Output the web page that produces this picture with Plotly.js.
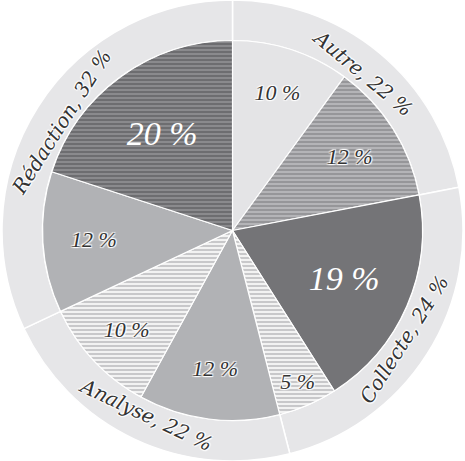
<!DOCTYPE html>
<html>
<head>
<meta charset="utf-8">
<script src="https://cdn.plot.ly/plotly-3.0.1.min.js"></script>
<style>html,body{margin:0;padding:0;background:#fff;}#chart{width:465px;height:461px;}</style>
</head>
<body>
<div id="chart"></div>
<script>
var groups = ["Autre", "Collecte", "Analyse", "Rédaction"];
var groupValues = [22, 24, 22, 32];
var subLabels = ["Autre A", "Autre B", "Collecte A", "Collecte B", "Analyse A", "Analyse B", "Rédaction A", "Rédaction B"];
var subValues = [10, 12, 19, 5, 12, 10, 12, 20];

var outerText = groups.map(function (g, i) { return g + ", " + groupValues[i] + " %"; });
var innerText = subValues.map(function (v) { return v + " %"; });

var innerColors = ["#e4e4e6", "#b4b4b7", "#747477", "#f2f2f2", "#b1b2b5", "#f2f2f2", "#b1b2b5", "#6d6d70"];
var innerPattern = ["", "-", "", "-", "", "-", "", "-"];
var innerFg = ["#e4e4e6", "#939396", "#747477", "#c4c4c6", "#b1b2b5", "#c4c4c6", "#b1b2b5", "#8d8d90"];
var innerTextColor = ["#333", "#333", "#fff", "#333", "#333", "#333", "#333", "#fff"];
var innerTextSize = [22, 22, 34, 22, 22, 22, 22, 34];
var halo = "1px 1px 1px #fff, -1px -1px 1px #fff, 1px -1px 1px #fff, -1px 1px 1px #fff";
var innerShadow = innerTextColor.map(function (c) { return c === "#fff" ? "none" : halo; });

var W = 465, H = 461, Rout = 230.5, Rin = 190;
var outer = {
  type: "pie",
  values: groupValues,
  labels: groups,
  text: outerText,
  textinfo: "text",
  textposition: "inside",
  insidetextorientation: "tangential",
  sort: false,
  direction: "clockwise",
  rotation: 0,
  hole: Rin / Rout,
  marker: { colors: ["#e6e6e8", "#e6e6e8", "#e6e6e8", "#e6e6e8"], line: { color: "#fff", width: 1.5 } },
  textfont: { family: "DejaVu Serif", style: "italic", size: 20, color: "#333", shadow: halo },
  domain: { x: [0, 1], y: [0, 1] },
  hoverinfo: "none",
  showlegend: false
};
var inner = {
  type: "pie",
  values: subValues,
  labels: subLabels,
  text: innerText,
  textinfo: "text",
  textposition: "inside",
  insidetextorientation: "horizontal",
  sort: false,
  direction: "clockwise",
  rotation: 0,
  marker: {
    colors: innerColors,
    line: { color: "#fff", width: 1.2 },
    pattern: { shape: innerPattern, fgcolor: innerFg, bgcolor: innerColors, size: 4, solidity: 0.45, fillmode: "replace" }
  },
  textfont: { family: "Liberation Serif", style: "italic", size: innerTextSize, color: innerTextColor, shadow: innerShadow },
  domain: { x: [0.5 - Rin / W, 0.5 + Rin / W], y: [0.5 - Rin / H, 0.5 + Rin / H] },
  hoverinfo: "none",
  showlegend: false
};
Plotly.newPlot("chart", [outer, inner], {
  width: W, height: H,
  margin: { l: 0, r: 0, t: 0, b: 0 },
  paper_bgcolor: "#fff",
  showlegend: false
}, { displayModeBar: false, staticPlot: true });
</script>
</body>
</html>
